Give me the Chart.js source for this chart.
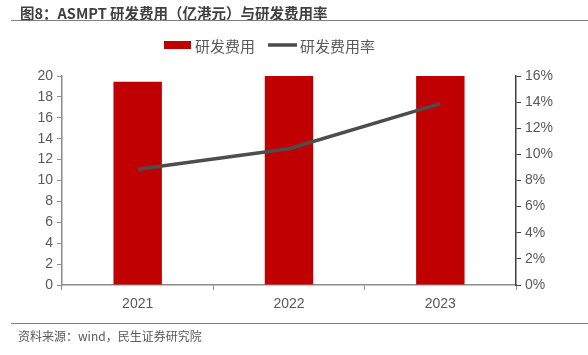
<!DOCTYPE html>
<html><head><meta charset="utf-8">
<script src="https://cdn.jsdelivr.net/npm/chart.js@4"></script>
<style>
html,body{margin:0;padding:0;background:#fff;}
#wrap{position:relative;width:588px;height:355px;overflow:hidden;font-family:"Noto Sans CJK SC","Liberation Sans",sans-serif;}
#title{position:absolute;left:20px;top:2px;font-size:14.5px;font-weight:bold;color:#3f3f3f;white-space:nowrap;}
#tline{position:absolute;left:11px;top:20px;width:577px;height:0;border-top:1.5px solid #7f7f7f;}
#fline{position:absolute;left:11px;top:323px;width:577px;height:0;border-top:1.5px solid #7f7f7f;}
#foot{position:absolute;left:18px;top:327px;font-size:12px;color:#595959;white-space:nowrap;}
canvas{position:absolute;left:0;top:0;}
</style></head>
<body><div id="wrap">
<canvas id="c" width="588" height="355"></canvas>
<div id="title">图8：ASMPT 研发费用（亿港元）与研发费用率</div>
<div id="tline"></div>
<div id="fline"></div>
<div id="foot">资料来源：wind，民生证券研究院</div>
</div>
<script>
const categories = ["2021", "2022", "2023"];
const rdExpense = [19.45, 20.1, 20.2];      // 亿港元
const rdRatio = [0.0886, 0.1043, 0.1388];  // 研发费用率
const seriesNames = ["研发费用", "研发费用率"];
const leftTicks = [0,2,4,6,8,10,12,14,16,18,20];
const rightTicks = [0,0.02,0.04,0.06,0.08,0.10,0.12,0.14,0.16];

const FONT = '"Liberation Sans", Arial, sans-serif';
const CJK = '"Noto Sans CJK SC", sans-serif';

const legendPlugin = {
  id: 'customLegend',
  afterDraw(chart) {
    const ctx = chart.ctx;
    const ds = chart.data.datasets;
    const barDs = ds.find(d => d.type === 'bar');
    const lineDs = ds.find(d => d.type === 'line');
    ctx.save();
    ctx.font = '15px ' + CJK;
    ctx.textBaseline = 'middle';
    const y = 46;
    ctx.fillStyle = barDs.backgroundColor;
    ctx.fillRect(164, 41, 27, 8);
    ctx.fillStyle = '#595959';
    ctx.fillText(barDs.label, 195, y);
    ctx.strokeStyle = lineDs.borderColor;
    ctx.lineWidth = 3.5;
    ctx.beginPath(); ctx.moveTo(268, 45); ctx.lineTo(297, 45); ctx.stroke();
    ctx.fillText(lineDs.label, 300, y);
    ctx.restore();
  }
};

new Chart(document.getElementById('c'), {
  data: {
    labels: categories,
    datasets: [
      { type: 'line', label: seriesNames[1], data: rdRatio, yAxisID: 'y1',
        borderColor: '#4d4d4d', borderWidth: 3.5, pointRadius: 0, tension: 0, order: 0 },
      { type: 'bar', label: seriesNames[0], data: rdExpense, yAxisID: 'y',
        backgroundColor: '#c00000', categoryPercentage: 1.0, barPercentage: 0.32, order: 1 }
    ]
  },
  options: {
    responsive: false, animation: false, devicePixelRatio: 1,
    layout: { padding: { top: 76, bottom: 30, left: 0, right: 0 } },
    plugins: { legend: { display: false }, tooltip: { enabled: false }, title: { display: false } },
    scales: {
      x: {
        offset: true,
        grid: { offset: true, drawOnChartArea: false, drawTicks: true, tickLength: 5, color: '#8c8c8c' },
        border: { display: true, color: '#8c8c8c', width: 1.5 },
        ticks: { font: { family: FONT, size: 14 }, color: '#595959', padding: 6 },
        afterFit(s) { s.height = 40; }
      },
      y: {
        position: 'left', min: 0, max: 20,
        afterBuildTicks(s) { s.ticks = leftTicks.map(v => ({ value: v })); },
        grid: { drawOnChartArea: false, drawTicks: true, tickLength: 5, color: '#8c8c8c' },
        border: { display: true, color: '#8c8c8c', width: 1.5 },
        ticks: { font: { family: FONT, size: 14 }, color: '#595959', padding: 4 },
        afterFit(s) { s.width = 62; }
      },
      y1: {
        position: 'right', min: 0, max: 0.16,
        afterBuildTicks(s) { s.ticks = rightTicks.map(v => ({ value: v })); },
        grid: { drawOnChartArea: false, drawTicks: true, tickLength: 5, color: '#404040' },
        border: { display: true, color: '#404040', width: 1.5 },
        ticks: { font: { family: FONT, size: 14 }, color: '#595959', padding: 4,
          callback: v => Math.round(v * 100) + '%' },
        afterFit(s) { s.width = 72; }
      }
    }
  },
  plugins: [legendPlugin]
});
</script>
</body></html>
